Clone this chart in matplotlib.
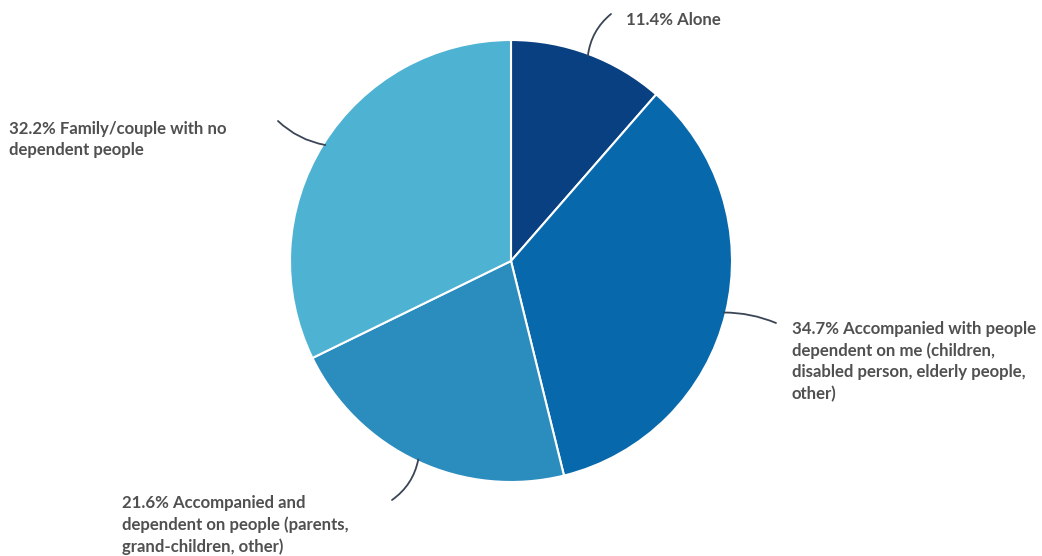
import numpy as np
import matplotlib.pyplot as plt

labels = ["Alone",
          "Accompanied with people\ndependent on me (children,\ndisabled person, elderly people,\nother)",
          "Accompanied and\ndependent on people (parents,\ngrand-children, other)",
          "Family/couple with no\ndependent people"]
shares = [11.4, 34.7, 21.6, 32.2]
colors = ["#084081", "#0868ac", "#2b8cbe", "#4eb3d3"]

W, H = 1042, 556
fig = plt.figure(figsize=(W / 100, H / 100), dpi=100)
ax = fig.add_axes([0, 0, 1, 1])

cx, cy, r = 511, H - 261, 221
wedges, _ = ax.pie(shares, colors=colors, startangle=90, counterclock=False,
                   center=(cx, cy), radius=r, frame=True,
                   wedgeprops=dict(edgecolor="white", linewidth=1.5))
ax.set_xlim(0, W)
ax.set_ylim(0, H)
ax.axis("off")

# label anchor (text x, first-line center y) and connector end, in pixels from top-left
text_pos = [(626, 18), (792, 327), (122, 501), (9, 127)]
line_end = [(611, 14), (776, 323), (392, 500), (278, 121)]
rads = [0.2, 0.1, 0.2, 0.15]

for w, lab, share, (tx, ty), (ex, ey), rad in zip(wedges, labels, shares,
                                                  text_pos, line_end, rads):
    ang = np.deg2rad((w.theta1 + w.theta2) / 2)
    px, py = cx + (r - 2) * np.cos(ang), cy + (r - 2) * np.sin(ang)
    ax.annotate("", xy=(px, py), xytext=(ex, H - ey),
                arrowprops=dict(arrowstyle="-", color="#3a4556", lw=1.3,
                                shrinkA=0, shrinkB=0,
                                connectionstyle=f"arc3,rad={rad}"))
    ax.text(tx, H - ty + 5.8, f"{share}% {lab}", ha="left", va="top",
            fontsize=12.1, fontfamily="Lato", fontweight="bold",
            color="#505050", linespacing=1.4)

fig.savefig("out.png", dpi=100)
